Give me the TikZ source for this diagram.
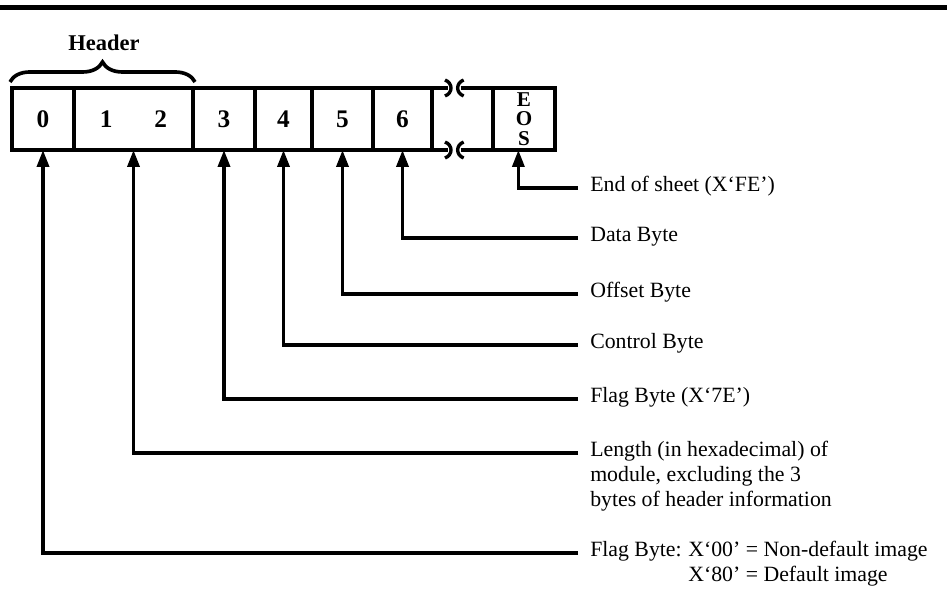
\documentclass[tikz,border=0pt]{standalone}
\usepackage{fontspec}
\setmainfont{Liberation Serif}
\usetikzlibrary{arrows.meta, positioning, decorations.pathreplacing}

\begin{document}
\begin{tikzpicture}[
  x=0.025cm, y=-0.025cm,
  >={Triangle[length=12pt, width=8.5pt]},
  cell/.style={draw, line width=2.4pt, minimum width=#1, minimum height=1.55cm,
    inner sep=0pt, outer sep=0pt, font=\fontsize{18}{20}\selectfont\bfseries},
  arr/.style={->, line width=2.4pt, shorten <=0.3cm},
  lbl/.style={anchor=mid west, inner sep=0pt, font=\fontsize{15.5}{17.8}\selectfont},
  brk/.style={line width=2.4pt},
]
\useasboundingbox (0,0) rectangle (947,592);

% Rule at the top of the page
\draw[line width=3.5pt] (0,7.5) -- (947,7.5);

% === Record cells ===
\node[cell=1.55cm] (c0) at (43,119) {0};
\node[cell=2.975cm] (c12) at (133.5,119) {1\hspace{1.05cm}2};
\node[cell=1.55cm] (c3) at (224,119) {3};
\node[cell=1.425cm] (c4) at (283.5,119) {4};
\node[cell=1.525cm] (c5) at (342.5,119) {5};
\node[cell=1.475cm] (c6) at (402.5,119) {6};
\node[cell=1.55cm, align=center, font=\fontsize{15}{13.8}\selectfont\bfseries] (eos) at (524,119) {E\\O\\S};

% Broken record between 6 and EOS
\draw[brk] (c6.north east) -- ++(16,0) coordinate (tl);
\draw[brk] (c6.south east) -- ++(16,0) coordinate (bl);
\draw[brk] ([xshift=-23]eos.north west) coordinate (tr) -- (eos.north west);
\draw[brk] ([xshift=-23]eos.south west) coordinate (br) -- (eos.south west);
\draw[brk] ([shift={(-3,-8)}]tl) .. controls ([shift={(5,-5)}]tl) and ([shift={(5,5)}]tl) .. ([shift={(-3,8)}]tl);
\draw[brk] ([shift={(-3,-8)}]bl) .. controls ([shift={(5,-5)}]bl) and ([shift={(5,5)}]bl) .. ([shift={(-3,8)}]bl);
\draw[brk] ([shift={(3,-8)}]tr) .. controls ([shift={(-5,-5)}]tr) and ([shift={(-5,5)}]tr) .. ([shift={(3,8)}]tr);
\draw[brk] ([shift={(3,-8)}]br) .. controls ([shift={(-5,-5)}]br) and ([shift={(-5,5)}]br) .. ([shift={(3,8)}]br);

% Header brace
\draw[line width=2.6pt, decorate, decoration={brace, amplitude=0.5cm}]
  ([shift={(-2,-6)}]c0.north west) -- ([shift={(2,-6)}]c12.north east);
\node[font=\fontsize{16}{18}\selectfont\bfseries] (header) at (104,43) {Header};

% === Labels ===
\node[lbl] (lEos) at (590,188) {End of sheet (X`FE')};
\node[lbl] (lData) at (590,238) {Data Byte};
\node[lbl] (lOff) at (590,294) {Offset Byte};
\node[lbl] (lCtl) at (590,345) {Control Byte};
\node[lbl] (lFlag) at (590,399) {Flag Byte (X`7E')};
\node[lbl] (lLen) at (590,453) {\begin{tabular}[t]{@{}l@{}}Length (in hexadecimal) of\\
  module, excluding the 3\\bytes of header information\end{tabular}};
\node[lbl] (lImg) at (590,553) {\begin{tabular}[t]{@{}l@{}l@{}}\makebox[2.45cm][l]{Flag Byte:}
  & X`00' = Non-default image\\ & X`80' = Default image\end{tabular}};

% === Pointers ===
\draw[arr] (lEos.mid west) -| ([xshift=-4]eos.south);
\draw[arr] (lData.mid west) -| (c6.south);
\draw[arr] (lOff.mid west) -| (c5.south);
\draw[arr] (lCtl.mid west) -| (c4.south);
\draw[arr] (lFlag.mid west) -| (c3.south);
\draw[arr] (lLen.mid west) -| (c12.south);
\draw[arr] (lImg.mid west) -| (c0.south);

\end{tikzpicture}
\end{document}
